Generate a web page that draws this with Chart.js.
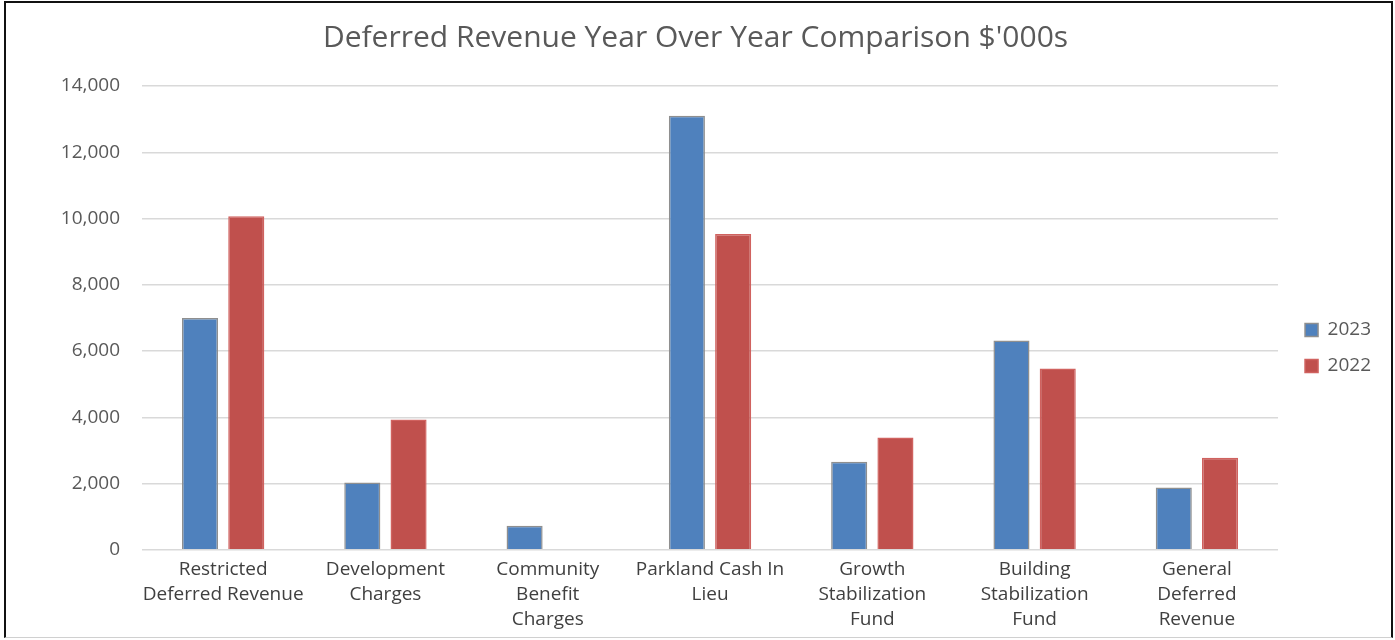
<!DOCTYPE html>
<html lang="en">
<head>
    <meta charset="UTF-8">
    <title>Deferred Revenue Year Over Year Comparison</title>
    <script src="https://cdn.jsdelivr.net/npm/chart.js"></script>
    <style>
        body {
            margin: 0;
            background: #ffffff;
            font-family: 'Open Sans', Arial, sans-serif;
        }

        .wrap {
            position: relative;
            width: 1395px;
            height: 640px;
        }

        .frame {
            position: absolute;
            left: 4px;
            top: 1px;
            width: 1389px;
            height: 637px;
            box-sizing: border-box;
            border: 2px solid #111;
            border-bottom: 1px solid #d0d0d0;
            pointer-events: none;
        }
    </style>
</head>
<body>
    <div class="wrap">
        <canvas id="revenueChart" width="1395" height="640"></canvas>
        <div class="frame"></div>
    </div>

    <script>
        // Values in $'000s
        const categories = [
            ['Restricted', 'Deferred Revenue'],
            ['Development', 'Charges'],
            ['Community', 'Benefit', 'Charges'],
            ['Parkland Cash In', 'Lieu'],
            ['Growth', 'Stabilization', 'Fund'],
            ['Building', 'Stabilization', 'Fund'],
            ['General', 'Deferred', 'Revenue']
        ];
        const values2023 = [7000, 2030, 725, 13100, 2660, 6320, 1880];
        const values2022 = [10070, 3930, 0, 9530, 3390, 5470, 2780];
        const yTicks = [0, 2000, 4000, 6000, 8000, 10000, 12000, 14000];

        // nudge the legend to where the original sits (lower and a bit right)
        const legendShift = {
            id: 'legendShift',
            afterLayout(chart) {
                const lg = chart.legend;
                lg.left += 10;
                lg.right += 10;
                lg.top += 21;
                lg.bottom += 21;
            }
        };

        const ctx = document.getElementById('revenueChart').getContext('2d');

        new Chart(ctx, {
            type: 'bar',
            data: {
                labels: categories,
                datasets: [
                    {
                        label: '2023',
                        data: values2023,
                        backgroundColor: '#4f81bd',
                        borderColor: '#8f8f8f',
                        borderWidth: 1.5,
                        categoryPercentage: 0.57,
                        barPercentage: 0.78
                    },
                    {
                        label: '2022',
                        data: values2022,
                        backgroundColor: '#c0504d',
                        borderColor: '#d0625f',
                        borderWidth: 1.5,
                        categoryPercentage: 0.57,
                        barPercentage: 0.78
                    }
                ]
            },
            options: {
                responsive: false,
                animation: false,
                layout: {
                    padding: { left: 20, right: 24, top: 14, bottom: 0 }
                },
                scales: {
                    y: {
                        min: yTicks[0],
                        max: yTicks[yTicks.length - 1],
                        afterBuildTicks: axis => {
                            axis.ticks = yTicks.map(v => ({ value: v }));
                        },
                        afterFit: axis => {
                            axis.width = 122;
                        },
                        border: { display: false },
                        grid: {
                            color: '#d9d9d9',
                            lineWidth: 1.5,
                            drawTicks: false
                        },
                        ticks: {
                            padding: 22,
                            color: '#595959',
                            font: { family: 'Open Sans', size: 19 },
                            callback: v => v.toLocaleString('en-US')
                        }
                    },
                    x: {
                        border: { display: false },
                        grid: { display: false, drawTicks: false },
                        ticks: {
                            maxRotation: 0,
                            autoSkip: false,
                            padding: 7.5,
                            color: '#404040',
                            font: { family: 'Open Sans', size: 19, lineHeight: 1.32 }
                        }
                    }
                },
                plugins: {
                    title: {
                        display: true,
                        text: "Deferred Revenue Year Over Year Comparison $'000s",
                        color: '#595959',
                        font: { family: 'Open Sans', size: 30, weight: 'normal' },
                        padding: { top: 6, bottom: 30 }
                    },
                    legend: {
                        position: 'right',
                        labels: {
                            boxWidth: 13,
                            boxHeight: 13,
                            padding: 17,
                            color: '#595959',
                            font: { family: 'Open Sans', size: 19 }
                        }
                    },
                    tooltip: { enabled: false }
                }
            },
            plugins: [legendShift]
        });
    </script>
</body>
</html>
